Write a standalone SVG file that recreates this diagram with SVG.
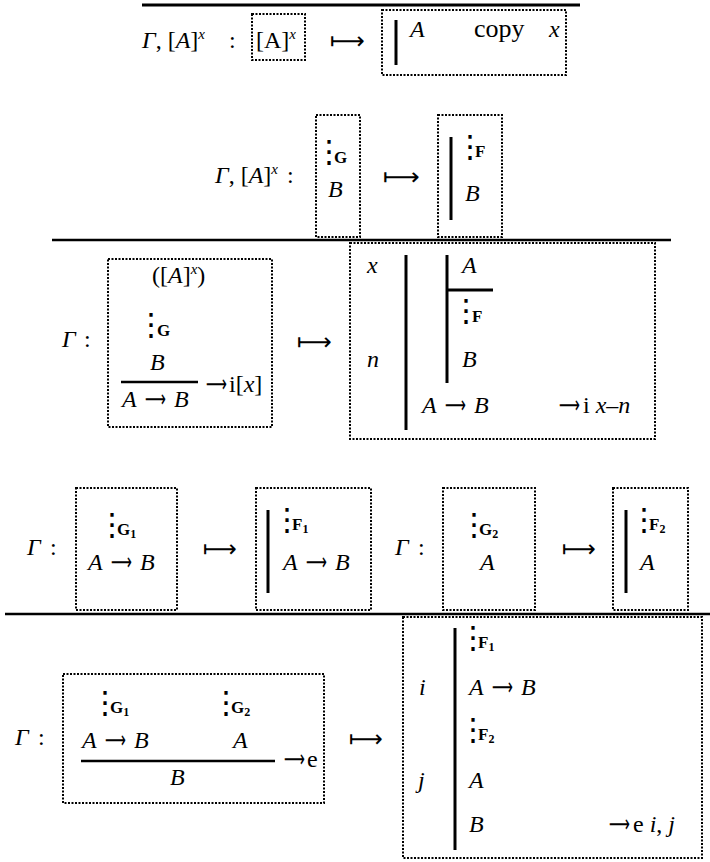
<svg xmlns="http://www.w3.org/2000/svg" width="710" height="862" viewBox="0 0 710 862">
<style>
.t{font-family:"Liberation Serif",serif;font-size:24px;fill:#000}
.i{font-style:italic}
.s{font-size:15px;font-style:italic}
.b{font-family:"Liberation Serif",serif;font-weight:bold;font-size:17px}
.sub{font-size:12px}
.vd{font-family:"DejaVu Sans",sans-serif;font-size:31px;text-anchor:middle}
.mt{font-family:"DejaVu Sans",sans-serif;font-size:24px;fill:#000}
.box{fill:none;stroke:#000;stroke-width:2;stroke-dasharray:2 1.5}
.bar{stroke:#000;stroke-width:3}
.rule{stroke:#000;stroke-width:2.5}
</style>
<rect width="710" height="862" fill="#fff"/>
<g id="connectors">
<line class="rule" x1="142" y1="5" x2="580" y2="5" style="stroke-width:3"/>
<line class="rule" x1="52" y1="240" x2="671" y2="240"/>
<line class="rule" x1="5" y1="614" x2="710" y2="614"/>
<text class="mt" x="330" y="49" textLength="35" lengthAdjust="spacingAndGlyphs">⟼</text>
<text class="mt" x="383" y="185" textLength="37" lengthAdjust="spacingAndGlyphs">⟼</text>
<text class="mt" x="297" y="350" textLength="35" lengthAdjust="spacingAndGlyphs">⟼</text>
<text class="mt" x="203" y="557" textLength="34" lengthAdjust="spacingAndGlyphs">⟼</text>
<text class="mt" x="562" y="557" textLength="34" lengthAdjust="spacingAndGlyphs">⟼</text>
<text class="mt" x="349" y="747" textLength="34" lengthAdjust="spacingAndGlyphs">⟼</text>
</g>
<g id="row1-ctx"><text class="t" x="142" y="48"><tspan class="i">Γ</tspan>, [<tspan class="i">A</tspan>]<tspan class="s" dy="-9">x</tspan><tspan x="229" dy="9">:</tspan></text></g>
<g id="row1-left"><rect class="box" x="252" y="14" width="53" height="46"/><text class="t" x="256" y="48">[A]<tspan class="s" dy="-9">x</tspan></text></g>
<g id="row1-right"><rect class="box" x="382" y="10" width="184" height="65"/><line class="bar" x1="396" y1="20" x2="396" y2="65"/><text class="t i" x="410" y="37">A</text><text class="t" x="474" y="37" style="font-size:26px">copy</text><text class="t i" x="549" y="37">x</text></g>

<g id="row2-ctx"><text class="t" x="215" y="183"><tspan class="i">Γ</tspan>, [<tspan class="i">A</tspan>]<tspan class="s" dy="-9">x</tspan><tspan x="287" dy="9">:</tspan></text></g>
<g id="row2-left"><rect class="box" x="316" y="115" width="44" height="122"/><text class="t" x="329" y="162"><tspan class="vd">⋮</tspan><tspan class="b" x="334" y="163">G</tspan></text><text class="t i" x="328" y="197">B</text></g>
<g id="row2-right"><rect class="box" x="438" y="115" width="64" height="122"/><line class="bar" x1="451" y1="137" x2="451" y2="220"/><text class="t" x="470" y="157"><tspan class="vd">⋮</tspan><tspan class="b" x="475" y="157">F</tspan></text><text class="t i" x="465" y="201">B</text></g>

<g id="row3-ctx"><text class="t" x="62" y="347"><tspan class="i">Γ</tspan><tspan x="84">:</tspan></text></g>
<g id="row3-left"><rect class="box" x="108" y="259" width="164" height="168"/>
<text class="t" x="152" y="283">([<tspan class="i">A</tspan>]<tspan class="s" dy="-9">x</tspan><tspan dy="9">)</tspan></text>
<text class="t" x="151" y="335"><tspan class="vd">⋮</tspan><tspan class="b" x="157" y="336">G</tspan></text>
<text class="t i" x="150" y="370">B</text>
<line class="rule" x1="121" y1="382" x2="198" y2="382"/>
<text class="t i" x="122" y="407">A</text><text class="mt" x="145" y="407" textLength="21" lengthAdjust="spacingAndGlyphs">⟶</text><text class="t i" x="174" y="407">B</text>
<text class="mt" x="206" y="392" textLength="21" lengthAdjust="spacingAndGlyphs">⟶</text><text class="t" x="229" y="392">i[<tspan class="i">x</tspan>]</text></g>
<g id="row3-right"><rect class="box" x="350" y="243" width="305" height="196"/>
<line class="bar" x1="406" y1="255" x2="406" y2="430"/>
<line class="bar" x1="447" y1="255" x2="447" y2="383"/>
<line class="bar" x1="447" y1="290" x2="493" y2="290"/>
<text class="t i" x="367" y="273">x</text><text class="t i" x="462" y="273">A</text>
<text class="t" x="466" y="321"><tspan class="vd">⋮</tspan><tspan class="b" x="472" y="322">F</tspan></text>
<text class="t i" x="367" y="367">n</text><text class="t i" x="462" y="367">B</text>
<text class="t i" x="422" y="413">A</text><text class="mt" x="445" y="413" textLength="21" lengthAdjust="spacingAndGlyphs">⟶</text><text class="t i" x="474" y="413">B</text>
<text class="mt" x="559" y="413" textLength="21" lengthAdjust="spacingAndGlyphs">⟶</text><text class="t" x="583" y="413">i <tspan class="i">x</tspan>–<tspan class="i">n</tspan></text></g>

<g id="row4-ctx1"><text class="t" x="27" y="555"><tspan class="i">Γ</tspan><tspan x="50">:</tspan></text></g>
<g id="row4-g1"><rect class="box" x="76" y="488" width="101" height="122"/><text class="t" x="112" y="535"><tspan class="vd">⋮</tspan><tspan class="b" x="117" y="535">G<tspan class="sub" dy="3">1</tspan></tspan></text>
<text class="t i" x="88" y="570">A</text><text class="mt" x="111" y="570" textLength="21" lengthAdjust="spacingAndGlyphs">⟶</text><text class="t i" x="140" y="570">B</text></g>
<g id="row4-f1"><rect class="box" x="256" y="488" width="115" height="122"/><line class="bar" x1="268" y1="510" x2="268" y2="593"/><text class="t" x="287" y="530"><tspan class="vd">⋮</tspan><tspan class="b" x="292" y="530">F<tspan class="sub" dy="3">1</tspan></tspan></text>
<text class="t i" x="283" y="570">A</text><text class="mt" x="306" y="570" textLength="21" lengthAdjust="spacingAndGlyphs">⟶</text><text class="t i" x="335" y="570">B</text></g>
<g id="row4-ctx2"><text class="t" x="395" y="555"><tspan class="i">Γ</tspan><tspan x="418">:</tspan></text></g>
<g id="row4-g2"><rect class="box" x="443" y="488" width="92" height="122"/><text class="t" x="474" y="535"><tspan class="vd">⋮</tspan><tspan class="b" x="479" y="535">G<tspan class="sub" dy="3">2</tspan></tspan></text><text class="t i" x="480" y="570">A</text></g>
<g id="row4-f2"><rect class="box" x="613" y="488" width="75" height="122"/><line class="bar" x1="626" y1="510" x2="626" y2="593"/><text class="t" x="644" y="530"><tspan class="vd">⋮</tspan><tspan class="b" x="649" y="530">F<tspan class="sub" dy="3">2</tspan></tspan></text><text class="t i" x="640" y="570">A</text></g>

<g id="row5-ctx"><text class="t" x="15" y="745"><tspan class="i">Γ</tspan><tspan x="38">:</tspan></text></g>
<g id="row5-left"><rect class="box" x="63" y="674" width="261" height="129"/>
<text class="t" x="105" y="713"><tspan class="vd">⋮</tspan><tspan class="b" x="110" y="713">G<tspan class="sub" dy="3">1</tspan></tspan></text>
<text class="t" x="226" y="713"><tspan class="vd">⋮</tspan><tspan class="b" x="231" y="713">G<tspan class="sub" dy="3">2</tspan></tspan></text>
<text class="t i" x="82" y="748">A</text><text class="mt" x="105" y="748" textLength="21" lengthAdjust="spacingAndGlyphs">⟶</text><text class="t i" x="134" y="748">B</text>
<text class="t i" x="233" y="748">A</text>
<line class="rule" x1="81" y1="761" x2="275" y2="761"/>
<text class="mt" x="284" y="767" textLength="21" lengthAdjust="spacingAndGlyphs">⟶</text><text class="t" x="307" y="767">e</text>
<text class="t i" x="170" y="785">B</text></g>
<g id="row5-right"><rect class="box" x="403" y="617" width="299" height="241"/>
<line class="bar" x1="455" y1="628" x2="455" y2="850"/>
<text class="t" x="473" y="648"><tspan class="vd">⋮</tspan><tspan class="b" x="478" y="648">F<tspan class="sub" dy="3">1</tspan></tspan></text>
<text class="t i" x="419" y="695">i</text>
<text class="t i" x="469" y="695">A</text><text class="mt" x="492" y="695" textLength="21" lengthAdjust="spacingAndGlyphs">⟶</text><text class="t i" x="521" y="695">B</text>
<text class="t" x="473" y="740"><tspan class="vd">⋮</tspan><tspan class="b" x="478" y="740">F<tspan class="sub" dy="3">2</tspan></tspan></text>
<text class="t i" x="418" y="788">j</text><text class="t i" x="469" y="788">A</text>
<text class="t i" x="469" y="832">B</text>
<text class="mt" x="609" y="832" textLength="21" lengthAdjust="spacingAndGlyphs">⟶</text><text class="t" x="633" y="832">e <tspan class="i">i</tspan>, <tspan class="i">j</tspan></text></g>
</svg>
